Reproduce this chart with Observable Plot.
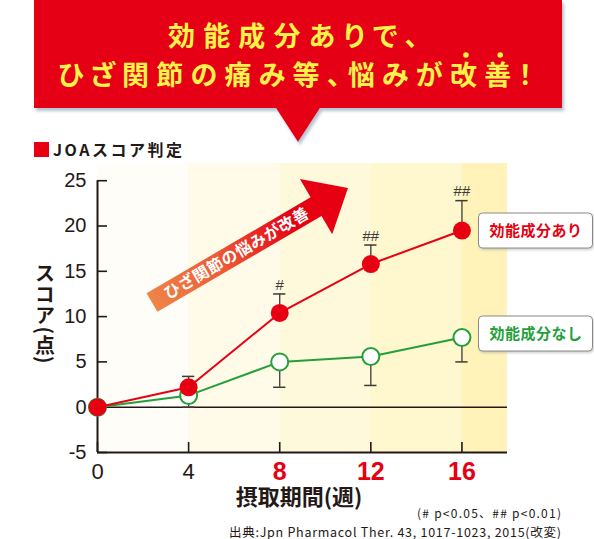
<!DOCTYPE html>
<html><head><meta charset="utf-8">
<script src="https://cdn.jsdelivr.net/npm/d3@7"></script>
<script src="https://cdn.jsdelivr.net/npm/@observablehq/plot@0.6"></script>
<style>
body{margin:0;background:#fff;}
#chart svg{display:block;}
</style>
</head><body><div id="chart"></div>
<script>
// ---- data ----
const weeks = [0, 4, 8, 12, 16];
const withActive = [0, 2.2, 10.4, 15.8, 19.5];
const withActiveErr = [0, 1.2, 2.1, 2.1, 3.3];
const withoutActive = [0, 1.3, 5.0, 5.6, 7.7];
const withoutActiveErr = [0, 1.3, 2.8, 3.2, 2.7];
const sigMarks = ["", "", "#", "##", "##"];
const yTicks = [-5, 0, 5, 10, 15, 20, 25];
const xTicks = [0, 4, 8, 12, 16];
const highlightWeeks = [8, 12, 16];
const bandEdges = [0, 4, 8, 12, 16, 18];
const seriesNames = ["効能成分あり", "効能成分なし"];
const titleLines = ["効能成分ありで、", "ひざ関節の痛み等、悩みが改善！"];
const emphasisChars = ["改", "善"];
const arrowText = "ひざ関節の悩みが改善";
const legendTitle = "JOAスコア判定";
const yLabel = "スコア(点)";
const xLabel = "摂取期間(週)";
const note1 = "(# p<0.05、## p<0.01)";
const note2 = "出典:Jpn Pharmacol Ther. 43, 1017-1023, 2015(改変)";

// ---- derived tables ----
const red = weeks.map((w, i) => ({w, v: withActive[i], e: withActiveErr[i], s: sigMarks[i]}));
const green = weeks.map((w, i) => ({w, v: withoutActive[i], e: withoutActiveErr[i]}));
const bands = bandEdges.slice(0, -1).map((a, i) => ({a, b: bandEdges[i + 1], i}));
const bandFill = ["#fffdf7", "#fffbe8", "#fff9dc", "#fff7cd", "#fff3b9"];

const RED = "#e60012", GREEN = "#23a03a", DARK = "#231815", ERR = "#3e3a39", YEL = "#fff34a";
const YTOP = 26.9;
const numFont = "'Liberation Sans', Arial, sans-serif";
const jpFont = "'Noto Sans CJK JP', sans-serif";

const arrowMark = () => {
  const g = d3.create("svg:g");
  const defs = g.append("defs");
  const grad = defs.append("linearGradient").attr("id", "arrowGrad")
    .attr("gradientUnits", "userSpaceOnUse").attr("x1", 0).attr("y1", 0).attr("x2", 226).attr("y2", 0);
  grad.append("stop").attr("offset", "0").attr("stop-color", "#ef8448");
  grad.append("stop").attr("offset", "0.35").attr("stop-color", "#ec5a36");
  grad.append("stop").attr("offset", "0.72").attr("stop-color", RED);
  grad.append("stop").attr("offset", "1").attr("stop-color", RED);
  const a = g.append("g").attr("transform", "translate(152,302.5) rotate(-30.3)");
  a.append("path").attr("d", "M0,-10.8 L190,-10.8 L190,-32 L227,0 L190,32 L190,10.8 L0,10.8 Z")
    .attr("fill", "url(#arrowGrad)");
  a.append("text").attr("x", 98).attr("y", 0).attr("dy", "0.36em")
    .attr("text-anchor", "middle").attr("fill", "#fff")
    .attr("font-family", jpFont).attr("font-weight", 700).attr("font-size", 16)
    .attr("letter-spacing", 0.5).text(arrowText);
  return g.node();
};

const plot = Plot.plot({
  width: 594, height: 539,
  marginLeft: 97, marginRight: 87, marginTop: 163, marginBottom: 87,
  x: {domain: [0, 18], axis: null},
  y: {domain: [-5, YTOP], axis: null},
  style: {background: "transparent"},
  marks: [
    Plot.rect(bands, {x1: "a", x2: "b", y1: -5, y2: YTOP, fill: d => bandFill[d.i]}),
    arrowMark,
    Plot.ruleY([0], {x1: 0, x2: 18, stroke: DARK, strokeWidth: 1.6}),
    Plot.ruleY([-5], {x1: 0, x2: 18, stroke: DARK, strokeWidth: 2}),
    Plot.ruleX([0], {y1: -5, y2: 25, stroke: DARK, strokeWidth: 2}),
    Plot.ruleY(yTicks, {x1: 0, x2: 0.44, stroke: DARK, strokeWidth: 1.6}),
    Plot.ruleX(xTicks, {y1: -5, y2: -3.9, stroke: DARK, strokeWidth: 1.6}),
    Plot.text(yTicks, {x: 0, y: d => d, text: d => String(d), dx: -11, textAnchor: "end",
      fontSize: 20, fill: DARK, fontFamily: numFont}),
    Plot.text(xTicks.filter(d => !highlightWeeks.includes(d)), {x: d => d, y: -5, text: d => String(d),
      dy: 19, lineAnchor: "middle", fontSize: 22, fill: DARK, fontFamily: numFont}),
    Plot.text(highlightWeeks, {x: d => d, y: -5, text: d => String(d),
      dy: 19, lineAnchor: "middle", fontSize: 25, fontWeight: "bold", fill: RED, fontFamily: numFont}),
    // green series
    Plot.ruleX(green.filter(d => d.e > 0), {x: "w", y1: "v", y2: d => d.v - d.e, stroke: ERR, strokeWidth: 1.3}),
    Plot.ruleY(green.filter(d => d.e > 0), {y: d => d.v - d.e, x1: d => d.w - 0.27, x2: d => d.w + 0.27, stroke: ERR, strokeWidth: 1.5}),
    Plot.line(green, {x: "w", y: "v", stroke: GREEN, strokeWidth: 2}),
    Plot.dot(green, {x: "w", y: "v", r: 8.5, fill: "#fff", stroke: GREEN, strokeWidth: 2}),
    // red series
    Plot.ruleX(red.filter(d => d.e > 0), {x: "w", y1: "v", y2: d => d.v + d.e, stroke: ERR, strokeWidth: 1.3}),
    Plot.ruleY(red.filter(d => d.e > 0), {y: d => d.v + d.e, x1: d => d.w - 0.27, x2: d => d.w + 0.27, stroke: ERR, strokeWidth: 1.5}),
    Plot.line(red, {x: "w", y: "v", stroke: RED, strokeWidth: 2}),
    Plot.dot(red, {x: "w", y: "v", r: 9, fill: RED}),
    Plot.text(red.filter(d => d.s), {x: "w", y: d => d.v + d.e, text: "s", dy: -9, fontSize: 15,
      fill: ERR, fontFamily: numFont, letterSpacing: 1})
  ]
});

document.getElementById("chart").appendChild(plot);
const svg = d3.select(plot);

const defs = svg.insert("defs", ":first-child");
const f = defs.append("filter").attr("id", "shadow").attr("x", "-5%").attr("y", "-10%").attr("width", "112%").attr("height", "130%");
f.append("feDropShadow").attr("dx", 2).attr("dy", 3).attr("stdDeviation", 1.6)
  .attr("flood-color", "#6f93aa").attr("flood-opacity", 0.55);
const f2 = defs.append("filter").attr("id", "shadow2").attr("x", "-10%").attr("y", "-20%").attr("width", "125%").attr("height", "150%");
f2.append("feDropShadow").attr("dx", 1).attr("dy", 1.5).attr("stdDeviation", 1)
  .attr("flood-color", "#999").attr("flood-opacity", 0.5);

// banner
const banner = svg.append("g");
banner.append("path")
  .attr("d", "M34,0 L562,0 L562,108 L320,108 L298,142 L276,108 L34,108 Z")
  .attr("fill", RED).attr("filter", "url(#shadow)");
const titleStyle = sel => sel.attr("text-anchor", "start").attr("fill", YEL)
  .attr("font-family", jpFont).attr("font-weight", 700).attr("font-size", 27)
  .attr("style", "font-feature-settings: 'palt' 1;")
  .attr("lengthAdjust", "spacing");
const t1 = banner.append("text").attr("x", 168).attr("y", 36).attr("dy", "0.36em")
  .call(titleStyle).attr("textLength", 250).text(titleLines[0]);
const t2 = banner.append("text").attr("x", 58).attr("y", 75).attr("dy", "0.36em")
  .call(titleStyle).attr("textLength", 474).text(titleLines[1]);
// emphasis dots above chosen characters
emphasisChars.forEach(ch => {
  const idx = titleLines[1].indexOf(ch);
  try {
    const s = t2.node().getStartPositionOfChar(idx).x;
    banner.append("circle").attr("cx", s + 16).attr("cy", 55).attr("r", 2.8).attr("fill", YEL);
  } catch (e) {}
});

// legend title
svg.append("rect").attr("x", 34).attr("y", 142).attr("width", 15).attr("height", 15).attr("fill", RED);
svg.append("text").attr("x", 53).attr("y", 156).attr("fill", DARK).attr("text-anchor", "start")
  .attr("font-family", jpFont).attr("font-weight", 700).attr("font-size", 16)
  .attr("letter-spacing", 2.5).text(legendTitle);

// y label (vertical writing)
svg.append("text").attr("x", 45).attr("y", 314)
  .attr("text-anchor", "middle").attr("fill", DARK)
  .attr("style", "writing-mode: vertical-rl; text-orientation: mixed;")
  .attr("font-family", jpFont).attr("font-weight", 700).attr("font-size", 20)
  .attr("letter-spacing", 1).text(yLabel);

// x label
svg.append("text").attr("x", 299).attr("y", 497).attr("dy", "0.36em")
  .attr("text-anchor", "middle").attr("fill", DARK)
  .attr("font-family", jpFont).attr("font-weight", 700).attr("font-size", 22)
  .text(xLabel);

// notes
svg.append("text").attr("x", 417).attr("y", 518).attr("text-anchor", "start").attr("fill", DARK)
  .attr("font-family", jpFont).attr("font-size", 12).attr("textLength", 144).attr("lengthAdjust", "spacing").text(note1);
svg.append("text").attr("x", 229).attr("y", 537).attr("text-anchor", "start").attr("fill", DARK)
  .attr("font-family", jpFont).attr("font-size", 12.5).attr("textLength", 332).attr("lengthAdjust", "spacing").text(note2);

// series label boxes
const boxes = [{name: seriesNames[0], y: 213, c: RED}, {name: seriesNames[1], y: 316, c: GREEN}];
boxes.forEach(b => {
  svg.append("rect").attr("x", 478.5).attr("y", b.y).attr("width", 114).attr("height", 35)
    .attr("rx", 4).attr("fill", "#fff").attr("stroke", "#8a8a8a").attr("stroke-width", 1)
    .attr("filter", "url(#shadow2)");
  svg.append("text").attr("x", 536).attr("y", b.y + 17.5).attr("dy", "0.35em")
    .attr("text-anchor", "middle").attr("fill", b.c)
    .attr("font-family", jpFont).attr("font-weight", 700).attr("font-size", 15)
    .attr("letter-spacing", 0.5).text(b.name);
});
</script>
</body></html>
